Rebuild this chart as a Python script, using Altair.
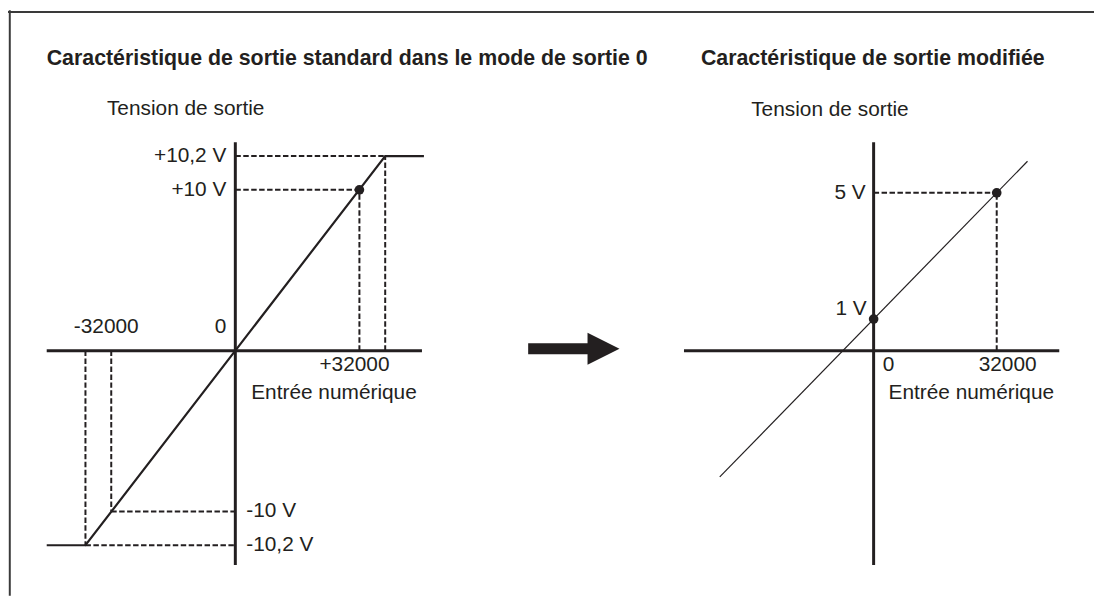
import altair as alt
import pandas as pd

# ---------------- canvas ----------------
W, H = 1094, 590          # whole drawing (page margin 8px)
INK = "#231f20"
FONT = "Liberation Sans"
TS = 21.5                 # title size
LS = 21                   # label size

# ---------------- left panel: standard characteristic (mode 0) ----------------
L_TITLE = "Caractéristique de sortie standard dans le mode de sortie 0"
L_X_NOM = 32000            # digital input at nominal output
L_X_SAT = 38650            # drawn position where output saturates
L_Y_NOM = 10.0             # +/-10 V
L_Y_SAT = 12.1             # drawn position of +/-10,2 V
L_X_AXIS = [-48640, 48130]
L_Y_AXIS = [-13.33, 12.96]
L_CURVE_X = [-48640, -L_X_SAT, L_X_SAT, 48640]
L_CURVE_Y = [-L_Y_SAT, -L_Y_SAT, L_Y_SAT, L_Y_SAT]
L_VLABELS = ["+10,2 V", "+10 V", "-10 V", "-10,2 V"]
L_VLABEL_Y = [L_Y_SAT, L_Y_NOM, -L_Y_NOM, -L_Y_SAT]
L_XLABELS = ["-32000", "0", "+32000"]
L_XLABEL_X = [-L_X_NOM, 0, L_X_NOM]

# ---------------- right panel: modified characteristic ----------------
R_TITLE = "Caractéristique de sortie modifiée"
R_X_AXIS = [-49300, 48260]
R_Y_AXIS = [-6.79, 6.6]
R_LINE_X = [-40000, 40000]
R_LINE_Y = [-4.0, 6.0]
R_POINTS_X = [0, 32000]
R_POINTS_Y = [1.0, 5.0]
R_VLABELS = ["5 V", "1 V"]
R_XLABELS = ["0", "32000"]

Y_LABEL = "Tension de sortie"
X_LABEL = "Entrée numérique"


def domains(px0_x, kx, px0_y, ky):
    """Domains so that value 0 sits at page pixel px0 with kx/ky px per unit."""
    xd = [(8 - px0_x) / kx, (8 + W - px0_x) / kx]
    yd = [(px0_y - 8 - H) / ky, (px0_y - 8) / ky]
    return xd, yd


LXD, LYD = domains(237, 125 / 32000, 351, 16.2)
RXD, RYD = domains(880, 124 / 32000, 351, 31.8)


def panel(xd, yd, rules_solid, dashed, curve, curve_w, dots, texts):
    xs = alt.Scale(domain=xd, nice=False, zero=False)
    ys = alt.Scale(domain=yd, nice=False, zero=False)
    layers = []
    # dashed guides
    layers.append(
        alt.Chart(pd.DataFrame(dashed, columns=["x", "y", "x2", "y2"])).mark_rule(
            color=INK, strokeWidth=2, strokeDash=[5.5, 2.5]
        ).encode(
            x=alt.X("x:Q", scale=xs, axis=None), y=alt.Y("y:Q", scale=ys, axis=None),
            x2="x2:Q", y2="y2:Q",
        )
    )
    # characteristic
    layers.append(
        alt.Chart(pd.DataFrame({"x": curve[0], "y": curve[1]})).mark_line(
            color=INK, strokeWidth=curve_w
        ).encode(x=alt.X("x:Q", scale=xs, axis=None), y=alt.Y("y:Q", scale=ys, axis=None))
    )
    # axes
    layers.append(
        alt.Chart(pd.DataFrame(rules_solid, columns=["x", "y", "x2", "y2"])).mark_rule(
            color=INK, strokeWidth=3
        ).encode(
            x=alt.X("x:Q", scale=xs, axis=None), y=alt.Y("y:Q", scale=ys, axis=None),
            x2="x2:Q", y2="y2:Q",
        )
    )
    # dots
    layers.append(
        alt.Chart(pd.DataFrame({"x": dots[0], "y": dots[1]})).mark_point(
            filled=True, color=INK, size=95, opacity=1
        ).encode(x=alt.X("x:Q", scale=xs, axis=None), y=alt.Y("y:Q", scale=ys, axis=None))
    )
    # texts
    for t in texts:
        txt, x, y, align, dx, dy, size, weight = t
        layers.append(
            alt.Chart(pd.DataFrame({"x": [x], "y": [y], "t": [txt]})).mark_text(
                align=align, baseline="middle", dx=dx, dy=dy, fontSize=size,
                font=FONT, fontWeight=weight, color=INK,
            ).encode(
                x=alt.X("x:Q", scale=xs, axis=None), y=alt.Y("y:Q", scale=ys, axis=None),
                text="t:N",
            )
        )
    return alt.layer(*layers)


left = panel(
    LXD, LYD,
    rules_solid=[
        [L_X_AXIS[0], 0, L_X_AXIS[1], 0],
        [0, L_Y_AXIS[0], 0, L_Y_AXIS[1]],
    ],
    dashed=[
        [0, L_Y_SAT, L_X_SAT, L_Y_SAT],
        [0, L_Y_NOM, L_X_NOM, L_Y_NOM],
        [L_X_NOM, 0, L_X_NOM, L_Y_NOM],
        [L_X_SAT, 0, L_X_SAT, L_Y_SAT],
        [-L_X_SAT, 0, -L_X_SAT, -L_Y_SAT],
        [-L_X_NOM, 0, -L_X_NOM, -L_Y_NOM],
        [-L_X_NOM, -L_Y_NOM, 0, -L_Y_NOM],
        [-L_X_SAT, -L_Y_SAT, 0, -L_Y_SAT],
    ],
    curve=(L_CURVE_X, L_CURVE_Y), curve_w=2.2,
    dots=([L_X_NOM], [L_Y_NOM]),
    texts=[
        (L_TITLE, L_X_AXIS[0], (351 - 57) / 16.2, "left", 0, 0, TS, "bold"),
        (Y_LABEL, 0, L_Y_AXIS[1], "center", -50, -33, LS, "normal"),
        (L_VLABELS[0], 0, L_VLABEL_Y[0], "right", -9, 0, LS, "normal"),
        (L_VLABELS[1], 0, L_VLABEL_Y[1], "right", -9, 0, LS, "normal"),
        (L_VLABELS[2], 0, L_VLABEL_Y[2], "left", 11, 0, LS, "normal"),
        (L_VLABELS[3], 0, L_VLABEL_Y[3], "left", 11, 0, LS, "normal"),
        (L_XLABELS[0], L_XLABEL_X[0], 0, "center", -5, -24, LS, "normal"),
        (L_XLABELS[1], L_XLABEL_X[1], 0, "center", -15, -24, LS, "normal"),
        (L_XLABELS[2], L_XLABEL_X[2], 0, "center", -5, 15, LS, "normal"),
        (X_LABEL, 0, 0, "left", 16, 43, LS, "normal"),
    ],
)

right = panel(
    RXD, RYD,
    rules_solid=[
        [R_X_AXIS[0], 0, R_X_AXIS[1], 0],
        [0, R_Y_AXIS[0], 0, R_Y_AXIS[1]],
    ],
    dashed=[
        [0, R_POINTS_Y[1], R_POINTS_X[1], R_POINTS_Y[1]],
        [R_POINTS_X[1], 0, R_POINTS_X[1], R_POINTS_Y[1]],
    ],
    curve=(R_LINE_X, R_LINE_Y), curve_w=1.2,
    dots=(R_POINTS_X, R_POINTS_Y),
    texts=[
        (R_TITLE, -44900, (351 - 57) / 31.8, "left", 0, 0, TS, "bold"),
        (Y_LABEL, 0, R_Y_AXIS[1], "center", -44, -33, LS, "normal"),
        (R_VLABELS[0], 0, R_POINTS_Y[1], "right", -8, 0, LS, "normal"),
        (R_VLABELS[1], 0, R_POINTS_Y[0], "right", -7, -10, LS, "normal"),
        (R_XLABELS[0], R_POINTS_X[0], 0, "center", 15, 15, LS, "normal"),
        (R_XLABELS[1], R_POINTS_X[1], 0, "center", 11, 15, LS, "normal"),
        (X_LABEL, 0, 0, "left", 15, 43, LS, "normal"),
    ],
)

one = pd.DataFrame({"k": [0]})
frame_top = alt.Chart(one).mark_rule(color="#3a3a3a", strokeWidth=2).encode(
    x=alt.value(0), x2=alt.value(W), y=alt.value(1.8)
)
frame_left = alt.Chart(one).mark_rule(color="#3a3a3a", strokeWidth=2).encode(
    x=alt.value(1.8), y=alt.value(0), y2=alt.value(H)
)
ARROW = "M-1,-0.12 L0.3,-0.12 L0.3,-0.35 L1,0 L0.3,0.35 L0.3,0.12 L-1,0.12 Z"
arrow = alt.Chart(one).mark_point(
    shape=ARROW, filled=True, color=INK, opacity=1, size=92 * 92, strokeWidth=0
).encode(x=alt.value(570), y=alt.value(341))

chart = (
    alt.layer(left, right, frame_top, frame_left, arrow)
    .resolve_scale(x="independent", y="independent")
    .properties(width=W, height=H, padding=0, autosize=alt.AutoSizeParams(type="none"),
                background="white")
    .configure_view(stroke=None)
)

chart.save("out.html", embed_options={"renderer": "svg", "actions": False})
